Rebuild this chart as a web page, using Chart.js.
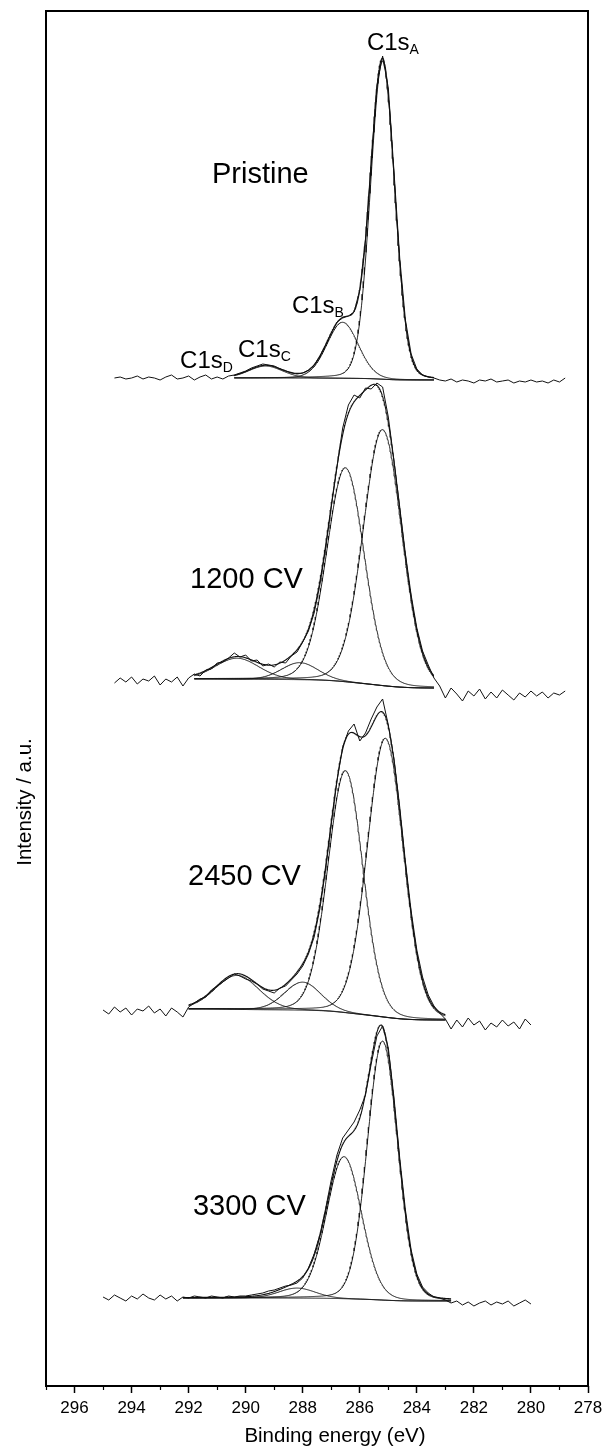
<!DOCTYPE html>
<html>
<head>
<meta charset="utf-8">
<script src="https://cdn.jsdelivr.net/npm/chart.js@4.4.1/dist/chart.umd.min.js"></script>
<style>
  html, body { margin: 0; padding: 0; background: #fff; }
  #wrap { width: 605px; height: 1449px; position: relative; }
</style>
</head>
<body>
<div id="wrap"><canvas id="c" width="605" height="1449"></canvas></div>
<script>
// Binding-energy grids (eV) of the measured C 1s spectra
const energyA = [
  294.6,294.4,294.2,294.0,293.8,293.6,293.4,293.2,293.0,292.8,
  292.6,292.4,292.2,292.0,291.8,291.6,291.4,291.2,291.0,290.8,
  290.6,290.4,290.2,290.0,289.8,289.6,289.4,289.2,289.0,288.8,
  288.6,288.4,288.2,288.0,287.8,287.6,287.4,287.2,287.0,286.8,
  286.6,286.4,286.2,286.0,285.8,285.6,285.4,285.2,285.0,284.8,
  284.6,284.4,284.2,284.0,283.8,283.6,283.4,283.2,283.0,282.8,
  282.6,282.4,282.2,282.0,281.8,281.6,281.4,281.2,281.0,280.8,
  280.6,280.4,280.2,280.0,279.8,279.6,279.4,279.2,279.0,278.8
];
const energyB = [
  295.0,294.8,294.6,294.4,294.2,294.0,293.8,293.6,293.4,293.2,
  293.0,292.8,292.6,292.4,292.2,292.0,291.8,291.6,291.4,291.2,
  291.0,290.8,290.6,290.4,290.2,290.0,289.8,289.6,289.4,289.2,
  289.0,288.8,288.6,288.4,288.2,288.0,287.8,287.6,287.4,287.2,
  287.0,286.8,286.6,286.4,286.2,286.0,285.8,285.6,285.4,285.2,
  285.0,284.8,284.6,284.4,284.2,284.0,283.8,283.6,283.4,283.2,
  283.0,282.8,282.6,282.4,282.2,282.0,281.8,281.6,281.4,281.2,
  281.0,280.8,280.6,280.4,280.2,280.0
];

// Measured intensities (a.u.), relative to each spectrum's high-energy baseline
const rawPristine = [
  0,1,-1,0,2,-1,1,0,-2,1,
  3,-1,0,2,-2,1,3,-1,1,-1,
  2,3,5,7,10,12,14,13,12,9,
  7,5,4,5,8,13,22,33,45,56,
  60,62,66,88,139,216,293,322,290,206,
  120,58,24,9,3,1,0,-2,-3,-1,
  -4,-2,-3,-5,-2,-3,-1,-4,-3,-2,
  -5,-3,-4,-2,-4,-3,-5,-2,-4,0
];
const raw1200 = [
  -4,1,-3,2,-5,0,-2,3,-6,0,
  -3,2,-7,1,5,3,9,10,16,17,
  21,26,22,24,18,19,13,15,12,17,
  16,23,27,37,48,66,94,130,172,212,
  251,274,284,281,291,290,296,292,262,218,
  172,125,84,51,28,14,1,-7,-19,-9,
  -15,-22,-12,-17,-10,-20,-13,-19,-11,-16,
  -21,-14,-18,-12,-17,-13,-19,-14,-16,-12
];
const raw2450 = [
  -1,-5,2,-3,1,-6,0,-2,3,-4,
  0,-7,1,-3,-8,2,6,10,12,19,
  23,27,31,35,33,30,28,25,20,18,
  16,21,23,29,35,43,55,72,100,139,
  185,228,262,278,285,268,276,290,302,310,
  284,250,202,147,98,59,32,14,3,-4,
  -10,-20,-11,-18,-9,-16,-12,-21,-14,-18,
  -11,-17,-13,-20,-10,-16
];
const raw3300 = [
  1,-2,3,0,-3,2,-1,4,0,-2,
  3,-1,2,-3,1,0,2,1,0,2,
  1,0,2,1,2,2,3,4,5,7,
  8,10,12,13,15,20,30,44,63,89,
  118,143,160,168,176,188,203,234,262,272,
  250,200,140,88,48,24,11,5,1,0,
  -2,-5,-3,-7,-4,-8,-5,-3,-7,-4,
  -6,-3,-8,-5,-2,-6
];

// Curve-fit results per spectrum: components C1sA, C1sB, C1sC, C1sD
const panelNames   = ['Pristine', '1200 CV', '2450 CV', '3300 CV'];
const peakCenters  = [[285.2, 286.6, 289.3], [285.2, 286.5, 288.1, 290.3], [285.1, 286.5, 288.0, 290.3], [285.2, 286.55, 288.2]];
const peakHeights  = [[318, 56, 12],         [256, 214, 17, 21],           [279, 242, 28, 34],           [259, 142, 10]];
const peakFwhm     = [[1.0, 1.3, 1.4],       [1.6, 1.55, 1.5, 1.8],        [1.5, 1.45, 1.5, 1.8],        [1.26, 1.45, 1.5]];
const fitLimits    = [[290.4, 283.4],        [291.8, 283.4],               [292.0, 283.0],               [292.2, 282.8]];
const backgroundEnds = [[0, -2],             [0, -9],                      [0, -11],                     [0, -3]];
// Vertical stacking of the four spectra (a.u.)
const stackOffsets = [1008, 707, 377, 88];

const xTicks = [296, 294, 292, 290, 288, 286, 284, 282, 280, 278];
const xMinorTicks = [297, 295, 293, 291, 289, 287, 285, 283, 281, 279];
const xTitle = 'Binding energy (eV)';
const yTitle = 'Intensity / a.u.';

const rawSeries = [rawPristine, raw1200, raw2450, raw3300];
const rawEnergies = [energyA, energyA, energyB, energyB];

const lorentzFraction = 0.1;
function pseudoVoigt(e, c, h, w) {
  const r = (e - c) / w;
  return h * ((1 - lorentzFraction) * Math.exp(-4 * Math.LN2 * r * r) + lorentzFraction / (1 + 4 * r * r));
}

const LINE = '#111';
const datasets = [];

panelNames.forEach((name, i) => {
  const off = stackOffsets[i];
  const [hi, lo] = fitLimits[i];
  const step = 0.02;
  const n = Math.round((hi - lo) / step);
  const es = [];
  for (let k = 0; k <= n; k++) es.push(lo + k * step);
  const comps = peakCenters[i].map((c, j) => es.map(e => pseudoVoigt(e, c, peakHeights[i][j], peakFwhm[i][j])));
  const sum = es.map((e, k) => comps.reduce((s, cmp) => s + cmp[k], 0));
  // Shirley-type background: steps down in proportion to the integrated peak area
  const cum = [0];
  for (let k = 1; k <= n; k++) cum.push(cum[k - 1] + (sum[k] + sum[k - 1]) / 2 * step);
  const total = cum[n];
  const [bL, bR] = backgroundEnds[i];
  const bg = cum.map(a => bR + (bL - bR) * a / total);

  const common = { showLine: true, pointRadius: 0, borderColor: LINE, fill: false, tension: 0 };
  datasets.push({ ...common, label: name + ' background', borderWidth: 1,
    data: es.map((e, k) => ({ x: e, y: bg[k] + off })) });
  comps.forEach((cmp, j) => {
    datasets.push({ ...common, label: name + ' C1s' + 'ABCD'[j], borderWidth: 0.9,
      data: es.map((e, k) => ({ x: e, y: bg[k] + cmp[k] + off })) });
  });
  datasets.push({ ...common, label: name + ' envelope', borderWidth: 1.1,
    data: es.map((e, k) => ({ x: e, y: bg[k] + sum[k] + off })) });
  datasets.push({ ...common, label: name + ' measured', borderWidth: 1,
    data: rawEnergies[i].map((e, k) => ({ x: e, y: rawSeries[i][k] + off })) });
});

const FONT = "'Liberation Sans', Arial, Helvetica, sans-serif";

const framePlugin = {
  id: 'frame',
  afterDraw(chart) {
    const { ctx, chartArea: a, scales: { x } } = chart;
    ctx.save();
    ctx.strokeStyle = '#000';
    ctx.lineWidth = 2;
    ctx.strokeRect(a.left, a.top, a.right - a.left, a.bottom - a.top);
    // minor ticks on the energy axis
    ctx.lineWidth = 1.2;
    xMinorTicks.forEach(v => {
      const px = Math.round(x.getPixelForValue(v)) + 0.5;
      ctx.beginPath();
      ctx.moveTo(px, a.bottom);
      ctx.lineTo(px, a.bottom + 4);
      ctx.stroke();
    });
    ctx.restore();
  }
};

const labelPlugin = {
  id: 'labels',
  afterDraw(chart) {
    const { ctx, chartArea: a, scales: { x, y } } = chart;
    ctx.save();
    ctx.fillStyle = '#000';
    ctx.textBaseline = 'alphabetic';
    ctx.textAlign = 'left';
    const panelTags = [
      { text: panelNames[0], e: 291.18, v: 1203 },
      { text: panelNames[1], e: 291.95, v: 798 },
      { text: panelNames[2], e: 292.02, v: 501 },
      { text: panelNames[3], e: 291.85, v: 171 }
    ];
    ctx.font = '29px ' + FONT;
    panelTags.forEach(t => ctx.fillText(t.text, x.getPixelForValue(t.e), y.getPixelForValue(t.v)));
    const peakTags = [
      { sub: 'A', e: 285.75, v: 1336 },
      { sub: 'B', e: 288.38, v: 1073 },
      { sub: 'C', e: 290.27, v: 1029 },
      { sub: 'D', e: 292.30, v: 1018 }
    ];
    peakTags.forEach(t => {
      const px = x.getPixelForValue(t.e), py = y.getPixelForValue(t.v);
      ctx.font = '24px ' + FONT;
      ctx.fillText('C1s', px, py);
      const w = ctx.measureText('C1s').width;
      ctx.font = '14px ' + FONT;
      ctx.fillText(t.sub, px + w, py + 4);
    });

    // axis titles
    ctx.font = '20.5px ' + FONT;
    ctx.textAlign = 'center';
    ctx.textBaseline = 'middle';
    ctx.fillText(xTitle, x.getPixelForValue(286.87), a.bottom + 50);
    ctx.translate(25, y.getPixelForValue(584));
    ctx.rotate(-Math.PI / 2);
    ctx.fillText(yTitle, 0, 0);
    ctx.restore();
  }
};

new Chart(document.getElementById('c'), {
  type: 'scatter',
  data: { datasets },
  options: {
    responsive: false,
    animation: false,
    devicePixelRatio: 1,
    layout: { padding: { top: 11, right: 17, left: 0, bottom: 0 } },
    plugins: { legend: { display: false }, tooltip: { enabled: false } },
    scales: {
      x: {
        type: 'linear', min: 278, max: 297, reverse: true,
        afterBuildTicks: s => { s.ticks = xTicks.map(v => ({ value: v })); },
        afterFit: s => { s.height = 63; s.paddingLeft = 0; s.paddingRight = 0; },
        grid: { display: true, drawOnChartArea: false, drawTicks: true, tickLength: 7, tickColor: '#000', tickWidth: 1.5 },
        border: { display: false },
        ticks: { color: '#000', font: { family: FONT, size: 17 }, padding: 5, maxRotation: 0, autoSkip: false },
        title: { display: false }
      },
      y: {
        type: 'linear', min: 0, max: 1375,
        afterFit: s => { s.width = 46; s.paddingTop = 0; s.paddingBottom = 0; },
        grid: { display: false },
        border: { display: false },
        ticks: { display: false },
        title: { display: false }
      }
    }
  },
  plugins: [framePlugin, labelPlugin]
});
</script>
</body>
</html>
